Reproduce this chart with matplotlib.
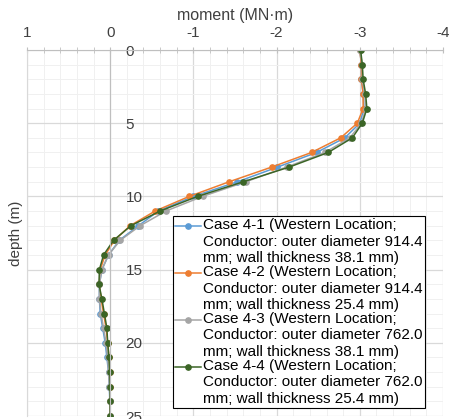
import matplotlib.pyplot as plt
from matplotlib.ticker import MultipleLocator
from matplotlib.legend_handler import HandlerLine2D

plt.rcParams['font.family'] = ['Liberation Sans', 'DejaVu Sans']
plt.rcParams['axes.unicode_minus'] = False

# depth below mudline (m), one point per metre
depth = list(range(0, 26))

# bending moment (MN·m)
case_4_1 = [-3.00, -3.02, -3.02, -3.04, -3.05, -3.00, -2.82, -2.48, -2.01, -1.53,
            -1.00, -0.58, -0.34, -0.11, 0.02, 0.10, 0.13, 0.13, 0.12, 0.09,
            0.06, 0.04, 0.02, 0.01, 0.005, 0.0]
case_4_2 = [-3.00, -3.02, -3.02, -3.04, -3.04, -2.97, -2.77, -2.42, -1.94, -1.43,
            -0.95, -0.54, -0.24, -0.05, 0.06, 0.12, 0.13, 0.11, 0.08, 0.05,
            0.03, 0.015, 0.005, 0.0, 0.0, 0.0]
case_4_3 = [-3.00, -3.03, -3.03, -3.06, -3.07, -3.02, -2.88, -2.58, -2.12, -1.63,
            -1.11, -0.67, -0.36, -0.12, 0.02, 0.10, 0.13, 0.13, 0.11, 0.08,
            0.05, 0.03, 0.02, 0.01, 0.0, 0.0]
case_4_4 = [-3.01, -3.03, -3.04, -3.07, -3.085, -3.03, -2.91, -2.62, -2.15, -1.60,
            -1.05, -0.60, -0.25, -0.04, 0.08, 0.13, 0.135, 0.10, 0.07, 0.04,
            0.03, 0.015, 0.005, 0.0, 0.0, 0.0]

labels = [
    'Case 4-1 (Western Location;\nConductor: outer diameter 914.4\nmm; wall thickness 38.1 mm)',
    'Case 4-2 (Western Location;\nConductor: outer diameter 914.4\nmm; wall thickness 25.4 mm)',
    'Case 4-3 (Western Location;\nConductor: outer diameter 762.0\nmm; wall thickness 38.1 mm)',
    'Case 4-4 (Western Location;\nConductor: outer diameter 762.0\nmm; wall thickness 25.4 mm)',
]
colors = ['#5B9BD5', '#ED7D31', '#A5A5A5', '#3B6526']


class FirstLineHandler(HandlerLine2D):
    # put the legend key next to the first text line, like Excel does
    def create_artists(self, legend, orig_handle, xdescent, ydescent, width,
                       height, fontsize, trans):
        arts = super().create_artists(legend, orig_handle, xdescent, ydescent,
                                      width, height, fontsize, trans)
        for a in arts:
            a.set_ydata([y + 11.3 for y in a.get_ydata()])
        return arts


fig = plt.figure(figsize=(4.51, 4.19), dpi=100)
ax = fig.add_axes([27 / 451, 1 - 416 / 419, 416 / 451, 366 / 419])

lines = []
for vals, lab, col in zip([case_4_1, case_4_2, case_4_3, case_4_4], labels, colors):
    ln, = ax.plot(vals, depth, color=col, lw=1.1, marker='o', ms=3.8, label=lab)
    lines.append(ln)

ax.set_xlim(1, -4)
ax.set_ylim(25, 0)
ax.xaxis.set_major_locator(MultipleLocator(1))
ax.xaxis.set_minor_locator(MultipleLocator(0.2))
ax.yaxis.set_major_locator(MultipleLocator(5))
ax.yaxis.set_minor_locator(MultipleLocator(1))
ax.grid(which='major', color='#d9d9d9', lw=0.9)
ax.grid(which='minor', color='#f0f0f0', lw=0.7)
ax.set_axisbelow(True)

# x axis on top, y axis crossing at x = 0 with labels on its right
ax.xaxis.tick_top()
ax.xaxis.set_label_position('top')
ax.yaxis.tick_right()
ax.spines['right'].set_position(('data', 0))
ax.spines['right'].set_color('#bfbfbf')
ax.spines['top'].set_color('#bfbfbf')
ax.spines['left'].set_color('#d9d9d9')
ax.spines['bottom'].set_visible(False)
ax.tick_params(axis='x', which='both', direction='inout', length=5, color='#bfbfbf',
               pad=5, labelsize=11, labelcolor='#404040')
ax.tick_params(axis='y', which='both', length=0, pad=11,
               labelsize=11, labelcolor='#404040')

ax.set_xlabel('moment (MN·m)', fontsize=11.5, color='#404040', labelpad=4)
ax.set_ylabel('depth (m)', fontsize=11, color='#404040')
ax.yaxis.set_label_position('left')
ax.yaxis.set_label_coords(-0.01, 0.5)

leg = ax.legend(handles=lines, loc='lower left', bbox_to_anchor=(0.35, 0.022),
                borderaxespad=0, fontsize=11, frameon=True, fancybox=False,
                edgecolor='black', framealpha=1, handlelength=1.7,
                handletextpad=0.15, labelspacing=0.0, borderpad=0.15,
                handler_map={ln: FirstLineHandler() for ln in lines})
leg.get_frame().set_linewidth(0.8)
for t in leg.get_texts():
    t.set_linespacing(1.22)

fig.savefig('out.png', dpi=100)
